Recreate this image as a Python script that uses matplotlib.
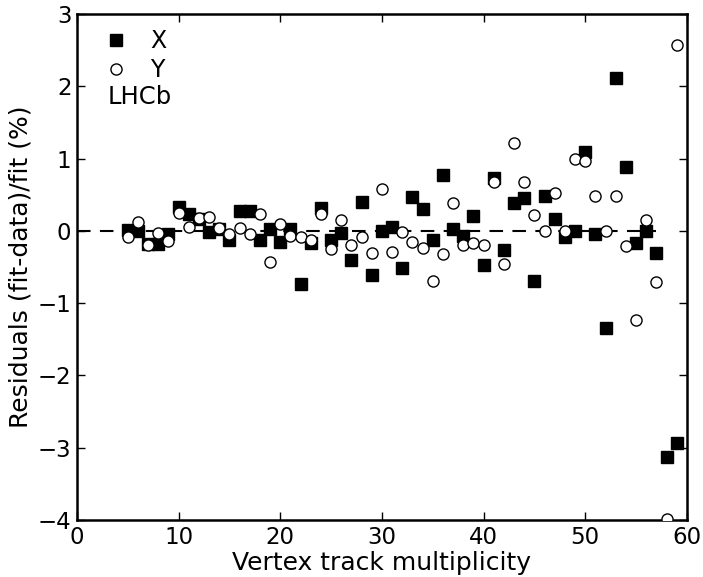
import matplotlib
matplotlib.use("Agg")
import matplotlib.pyplot as plt
import numpy as np

mult = list(range(5, 60))
res_x = [0.01, 0.00, -0.18, -0.18, -0.04, 0.33, 0.23, 0.17, -0.01, 0.03,
         -0.13, 0.27, 0.27, -0.13, 0.03, -0.16, 0.02, -0.73, -0.17, 0.32,
         -0.13, -0.03, -0.40, 0.40, -0.61, 0.00, 0.05, -0.52, 0.47, 0.30,
         -0.12, 0.77, 0.03, -0.07, 0.21, -0.47, 0.73, -0.26, 0.39, 0.46,
         -0.69, 0.48, 0.17, -0.09, 0.00, 1.09, -0.04, -1.35, 2.11, 0.88,
         -0.17, 0.00, -0.31, -3.13, -2.93]
res_y = [-0.08, 0.12, -0.19, -0.03, -0.14, 0.25, 0.06, 0.18, 0.19, 0.04,
         -0.04, 0.04, -0.04, 0.24, -0.43, 0.09, -0.07, -0.09, -0.12, 0.24,
         -0.25, 0.15, -0.20, -0.08, -0.30, 0.58, -0.29, -0.01, -0.15, -0.24,
         -0.70, -0.32, 0.38, -0.19, -0.17, -0.20, 0.67, -0.46, 1.22, 0.67,
         0.22, 0.00, 0.53, 0.00, 0.99, 0.96, 0.48, 0.00, 0.48, -0.21,
         -1.24, 0.15, -0.71, -3.98, 2.57]
fit_range = [0, 57]

fig = plt.figure(figsize=(7.03, 5.77), dpi=100)
ax = fig.add_axes([0.1095, 0.0988, 0.8675, 0.8769])

ax.plot(fit_range, [0, 0], color="black", lw=1.5, ls=(0, (6.5, 4.5)), zorder=1)
ax.plot(mult, res_x, ls="none", marker="s", ms=8, mfc="black", mec="black",
        label="X", zorder=2, clip_on=False)
ax.plot(mult, res_y, ls="none", marker="o", ms=8, mfc="white", mec="black",
        mew=1.0, label="Y", zorder=3, clip_on=True)

ax.set_xlim(0, 60)
ax.set_ylim(-4, 3)
ax.set_xticks([0, 10, 20, 30, 40, 50, 60])
ax.set_yticks([-4, -3, -2, -1, 0, 1, 2, 3])
ax.tick_params(direction="in", top=True, right=True, length=6, width=1,
               labelsize=16.5, pad=4)
for s in ax.spines.values():
    s.set_linewidth(1.8)

ax.set_xlabel("Vertex track multiplicity", fontsize=18, labelpad=2)
ax.set_ylabel("Residuals (fit-data)/fit (%)", fontsize=18)

leg = ax.legend(loc="upper left", frameon=False, fontsize=17, numpoints=1,
                handletextpad=0.45, borderaxespad=0.25, borderpad=0.4,
                labelspacing=0.2)
ax.text(0.050, 0.822, "LHCb", transform=ax.transAxes, fontsize=17.5,
        ha="left", va="baseline")

fig.savefig("out.png", dpi=100)
